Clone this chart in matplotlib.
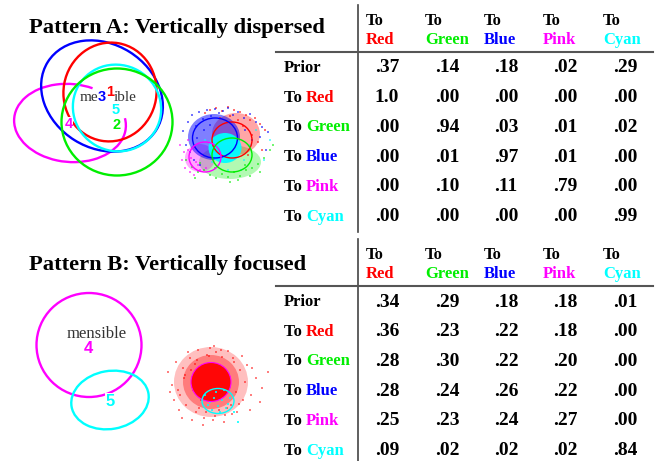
import matplotlib.pyplot as plt
from matplotlib.patches import Ellipse, Arc

# table data
targets = ['Red', 'Green', 'Blue', 'Pink', 'Cyan']
target_colors = ['#ff0000', '#00ee00', '#0000ff', '#ff00ff', '#00ffff']
row_names = ['Prior', 'Red', 'Green', 'Blue', 'Pink', 'Cyan']

vals_a = [[.37, .14, .18, .02, .29],
          [1.0, .00, .00, .00, .00],
          [.00, .94, .03, .01, .02],
          [.00, .01, .97, .01, .00],
          [.00, .10, .11, .79, .00],
          [.00, .00, .00, .00, .99]]

vals_b = [[.34, .29, .18, .18, .01],
          [.36, .23, .22, .18, .00],
          [.28, .30, .22, .20, .00],
          [.28, .24, .26, .22, .00],
          [.25, .23, .24, .27, .00],
          [.09, .02, .02, .02, .84]]

# scatter cloud points (pixel coords of the embedded pictures)
blue_x = [183, 188, 192, 196, 199, 203, 207, 211, 215, 219, 223, 228, 233, 238, 244, 250, 256, 262, 268, 186, 190, 197, 204, 210, 245, 252, 260, 266, 194, 200]
blue_y = [131, 122, 115, 126, 112, 119, 110, 116, 109, 113, 111, 108, 115, 112, 118, 114, 122, 127, 132, 145, 152, 138, 130, 125, 130, 140, 137, 150, 160, 165]
red_x = [205, 210, 216, 222, 228, 234, 240, 246, 250, 255, 260, 265, 243, 252, 258, 238, 230, 262, 248, 220]
red_y = [113, 110, 108, 111, 107, 110, 112, 115, 120, 118, 124, 130, 126, 135, 142, 120, 116, 150, 155, 118]
green_x = [186, 192, 198, 204, 210, 216, 222, 228, 234, 240, 246, 252, 258, 264, 270, 200, 215, 230, 245, 260, 273, 195, 238, 250]
green_y = [160, 167, 172, 170, 175, 178, 174, 177, 172, 176, 170, 168, 164, 158, 150, 163, 168, 182, 165, 172, 145, 178, 180, 176]
pink_x = [180, 184, 188, 191, 195, 198, 202, 185, 190, 196, 200, 206, 182, 188, 194]
pink_y = [145, 152, 140, 158, 148, 165, 155, 168, 172, 162, 170, 168, 160, 150, 175]
cyan_x = [238, 244, 250, 212, 205, 256, 228, 264, 270, 241]
cyan_y = [150, 160, 145, 162, 140, 130, 170, 160, 140, 170]

redB_x = [168, 172, 176, 180, 184, 186, 190, 193, 196, 198, 201, 204, 207, 210, 213, 216, 219, 222, 225, 228,
          231, 234, 237, 240, 243, 247, 251, 256, 262, 268, 174, 179, 183, 188, 192, 197, 203, 209, 215, 221,
          227, 233, 239, 245, 250, 178, 185, 191, 199, 206, 214, 224, 232, 242, 252, 260, 170, 182, 195, 236]
redB_y = [372, 385, 362, 395, 378, 405, 358, 390, 412, 350, 400, 418, 355, 348, 420, 352, 410, 357, 415, 351,
          405, 362, 412, 370, 400, 365, 395, 378, 388, 372, 400, 410, 368, 352, 420, 360, 425, 356, 416, 350,
          408, 358, 404, 382, 410, 390, 375, 370, 408, 412, 346, 422, 414, 356, 368, 402, 392, 418, 364, 392]
cyanB_x = [205, 210, 214, 218, 222, 226, 230, 212, 220, 228, 216, 224, 234, 208, 238]
cyanB_y = [395, 402, 398, 406, 400, 408, 398, 410, 412, 404, 392, 390, 412, 405, 422]

RED, GREEN, BLUE, PINK, CYAN = target_colors
SERIF = 'Liberation Serif'
SANS = 'Liberation Sans'
FS = 12

fig = plt.figure(figsize=(6.56, 4.61), dpi=100)
ax = fig.add_axes([0, 0, 1, 1])
ax.set_xlim(0, 656)
ax.set_ylim(461, 0)
ax.axis('off')


def fmt(v):
    return '1.0' if v >= 1 else ('%.2f' % v)[1:]


def draw_table(top, vals):
    # top = y of the "To" header line
    ax.plot([358, 358], [top - 16, top + 211], color='#444', lw=1.2)
    ax.plot([276, 653], [top + 31, top + 31], color='#555', lw=1.5)
    xs_left = [366, 425, 484, 543, 603]
    xs_mid = [387, 447, 506, 565, 625]
    for x, name, c in zip(xs_left, targets, target_colors):
        ax.text(x, top, 'To', family=SERIF, weight='bold', fontsize=FS, va='center')
        ax.text(x, top + 19, name, family=SERIF, weight='bold', fontsize=FS,
                color=c, va='center')
    for i, rn in enumerate(row_names):
        y = top + 47 + i * 29.7
        if rn == 'Prior':
            ax.text(284, y, 'Prior', family=SERIF, weight='bold', fontsize=FS, va='center')
        else:
            t = ax.text(284, y, 'To ', family=SERIF, weight='bold', fontsize=FS, va='center')
            ax.annotate(rn, xycoords=t, xy=(1, 0.5), va='center', family=SERIF,
                        weight='bold', fontsize=FS, color=target_colors[row_names.index(rn) - 1])
        for j, v in enumerate(vals[i]):
            ax.text(xs_mid[j], y, fmt(v), family=SERIF, weight='bold', fontsize=14,
                    ha='center', va='center')


def ell(x, y, w, h, ang, c, lw=1.7, fill=False, alpha=1.0):
    ax.add_patch(Ellipse((x, y), w, h, angle=ang, fill=fill, ec=c if not fill else 'none',
                         fc=c if fill else 'none', lw=lw, alpha=alpha))


# ---- Pattern A ----
ax.text(29, 28, 'Pattern A: Vertically dispersed', family=SERIF, weight='bold',
        fontsize=16.2, va='center')
draw_table(21, vals_a)

ax.add_patch(Arc((70, 123), 112, 78, angle=5, theta1=-10, theta2=298, color=PINK, lw=1.7))
ell(102, 96, 128, 104, 32, BLUE)
ell(110, 92, 93, 99, 10, RED)
ell(117, 108, 89, 86, 30, CYAN)
ell(117, 122, 111, 107, 0, GREEN)
ax.text(98, 97, 'me', family=SERIF, fontsize=11, color='#333', ha='right', va='center')
ax.text(114, 97, 'ible', family=SERIF, fontsize=11, color='#333', ha='left', va='center')
for lab, x, y, c in [('3', 102, 97, BLUE), ('1', 110, 92, RED), ('5', 116, 110, CYAN),
                     ('2', 117, 125, GREEN), ('4', 69, 124, PINK)]:
    ax.text(x, y, lab, family=SANS, weight='bold', fontsize=10.5, color=c, ha='center',
            va='center', bbox=dict(fc='white', ec='none', pad=0.2) if lab == '4' else None)

# cloud A
ell(230, 162, 62, 34, 0, GREEN, fill=True, alpha=0.3)
ell(200, 158, 30, 28, 0, PINK, fill=True, alpha=0.35)
ell(236, 134, 48, 42, 0, RED, fill=True, alpha=0.35)
ell(214, 137, 52, 46, 0, BLUE, fill=True, alpha=0.5)
for xs, ys, c in [(green_x, green_y, GREEN), (pink_x, pink_y, PINK), (red_x, red_y, RED),
                  (blue_x, blue_y, BLUE), (cyan_x, cyan_y, CYAN)]:
    ax.scatter(xs, ys, s=4, marker='s', color=c, alpha=0.55, lw=0)
ell(225, 148, 33, 30, 0, CYAN, fill=True, alpha=0.95)
ell(232, 140, 40, 36, 0, RED, lw=1)
ell(215, 138, 45, 40, 0, BLUE, lw=1)
ell(205, 157, 32, 30, 0, PINK, lw=1)
ell(232, 155, 40, 34, 0, GREEN, lw=1)

# ---- Pattern B ----
ax.text(29, 265, 'Pattern B: Vertically focused', family=SERIF, weight='bold',
        fontsize=16.2, va='center')
draw_table(255, vals_b)

ell(89, 345, 105, 104, 0, PINK)
ell(110, 400, 78, 58, -10, CYAN)
ax.text(97, 334, 'mensible', family=SERIF, fontsize=12, color='#333', ha='center', va='center')
ax.text(88, 348, '4', family=SANS, weight='bold', fontsize=12, color=PINK, ha='center', va='center')
ax.text(110, 401, '5', family=SANS, weight='bold', fontsize=12, color=CYAN, ha='center',
        va='center', bbox=dict(fc='white', ec='none', pad=0.2))

# cloud B
ell(211, 382, 74, 70, 0, RED, fill=True, alpha=0.25)
ell(211, 382, 56, 54, 0, RED, fill=True, alpha=0.35)
ax.scatter(redB_x, redB_y, s=4, marker='s', color=RED, alpha=0.5, lw=0)
ell(211, 382, 40, 39, 0, RED, fill=True, alpha=0.95)
ax.scatter(cyanB_x, cyanB_y, s=4, marker='s', color=CYAN, alpha=0.8, lw=0)
ell(211, 382, 40, 39, 0, PINK, lw=0.8)
ell(218, 401, 32, 25, 0, CYAN, lw=1)

fig.savefig('out.png', dpi=100)
